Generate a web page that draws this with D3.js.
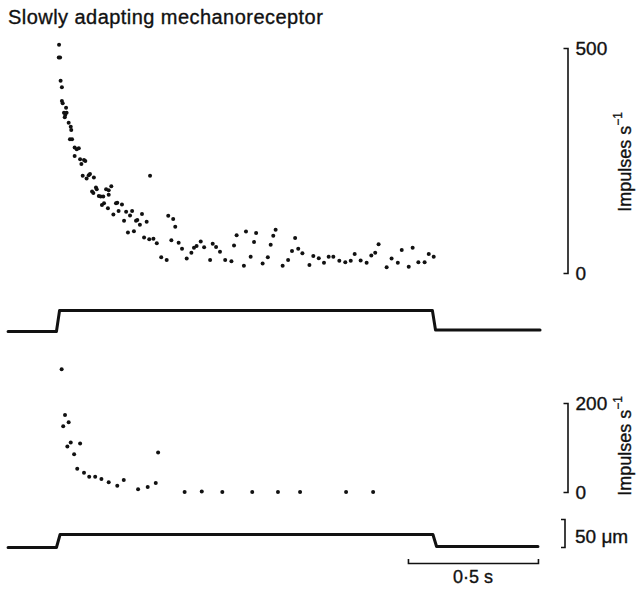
<!DOCTYPE html>
<html>
<head>
<meta charset="utf-8">
<script src="https://cdn.jsdelivr.net/npm/d3@7"></script>
<style>
  body { margin: 0; background: #fff; }
  svg { display: block; font-family: 'Liberation Sans', Arial, sans-serif; }
</style>
</head>
<body>
<div id="chart"><svg></svg></div>
<script>
// spike times (s after stimulus onset) and instantaneous rate (impulses/s)
const topT = [0.004, 0.003, 0.008, 0.010, 0.015, 0.015, 0.018, 0.031, 0.023, 0.028, 0.033, 0.026,
  0.041, 0.049, 0.051, 0.046, 0.054, 0.064, 0.072, 0.080, 0.064, 0.085, 0.090, 0.100, 0.105,
  0.095, 0.110, 0.118, 0.123, 0.138, 0.354, 0.131, 0.136, 0.146, 0.149, 0.157, 0.164, 0.174,
  0.185, 0.195, 0.205, 0.195, 0.169, 0.177, 0.192, 0.213, 0.223, 0.228, 0.246, 0.233, 0.262,
  0.254, 0.277, 0.285, 0.300, 0.305, 0.315, 0.323, 0.341, 0.269, 0.292, 0.331, 0.351, 0.367,
  0.380, 0.424, 0.443, 0.451, 0.397, 0.418, 0.436, 0.464, 0.477, 0.495, 0.513, 0.523, 0.533,
  0.549, 0.562, 0.585, 0.595, 0.608, 0.623, 0.643, 0.667, 0.677, 0.687, 0.715, 0.723, 0.741,
  0.754, 0.762, 0.787, 0.807, 0.818, 0.828, 0.837, 0.864, 0.885, 0.900, 0.912, 0.924, 0.940,
  0.967, 0.982, 1.003, 1.023, 1.041, 1.059, 1.082, 1.105, 1.126, 1.141, 1.164, 1.187, 1.205,
  1.220, 1.233, 1.264, 1.283, 1.307, 1.322, 1.349, 1.364, 1.386, 1.410, 1.426, 1.445]
const topRate = [507, 479, 479, 427, 413, 382, 377, 367, 356, 351, 356, 346,
  334, 325, 318, 297, 297, 279, 275, 277, 260, 253, 242, 251, 249,
  216, 210, 217, 220, 212, 216, 181, 178, 190, 186, 171, 170, 170,
  186, 184, 193, 174, 151, 155, 144, 130, 155, 156, 152, 138, 136,
  116, 128, 138, 116, 118, 107, 131, 114, 90, 93, 79, 75, 76,
  66, 127, 120, 103, 35, 29, 73, 67, 54, 32, 45, 56, 60,
  70, 57, 29, 65, 58, 47, 29, 26, 61, 84, 16, 92, 36,
  69, 89, 21, 35, 63, 83, 96, 16, 29, 49, 78, 54, 44,
  18, 38, 33, 23, 36, 36, 27, 24, 27, 42, 28, 23, 39,
  45, 64, 13, 32, 23, 51, 14, 56, 24, 24, 42, 36]

const botT = [0.014, 0.027, 0.020, 0.041, 0.036, 0.049, 0.085, 0.062, 0.074, 0.100, 0.120,
  0.143, 0.167, 0.195, 0.228, 0.253, 0.308, 0.345, 0.376, 0.385, 0.487, 0.553, 0.632,
  0.747, 0.846, 0.931, 1.108, 1.212]
const botRate = [276, 173, 148, 157, 102, 111, 109, 85, 52, 43, 34,
  34, 29, 22, 14, 27, 6, 11, 20, 89, 0, 1, 0,
  0, 0, 0, 0, 0]

// stimulus displacement traces (s, µm)
const stimTopT = [-0.192, -0.006, 0.006, 1.440, 1.452, 1.854]
const stimTopUm = [0, 0, 37.5, 37.5, 2.7, 2.7]
const stimBotT = [-0.192, -0.006, 0.008, 1.442, 1.456, 1.846]
const stimBotUm = [0, 0, 23.2, 23.2, 1.8, 1.8]

const topTicks = [0, 500]
const botTicks = [0, 200]
const scaleBarS = 0.5
const scaleBarUm = 50

const svg = d3.select('#chart').select('svg')
  .attr('width', 642)
  .attr('height', 593)

const x = d3.scaleLinear().domain([0, 1]).range([58, 318])
const yTop = d3.scaleLinear().domain([0, 500]).range([273, 48])
const yBot = d3.scaleLinear().domain([0, 200]).range([492, 403])
const stimTop = d3.scaleLinear().domain([0, 50]).range([331.5, 303.5])
const stimBot = d3.scaleLinear().domain([0, 50]).range([547.5, 519.5])

const ink = '#111'
// scanned print looks a bit heavier than the plain font
const heavy = sel => sel.attr('stroke', ink).attr('stroke-width', 0.35)

svg.append('text').text('Slowly adapting mechanoreceptor')
  .attr('x', 8).attr('y', 24)
  .attr('font-size', '20px')
  .attr('letter-spacing', '0.45px')
  .attr('fill', ink)
  .call(heavy)

// dots
function dots(ts, rs, y, cls) {
  svg.selectAll('.' + cls).data(ts).enter()
    .append('circle').attr('class', cls)
    .attr('cx', d => x(d))
    .attr('cy', (d, i) => y(rs[i]))
    .attr('r', 2)
    .attr('fill', ink)
}
dots(topT, topRate, yTop, 'dotTop')
dots(botT, botRate, yBot, 'dotBot')

// stimulus traces
function trace(ts, us, y) {
  let line = d3.line().x(d => x(d[0])).y(d => y(d[1]))
  svg.append('path')
    .attr('d', line(ts.map((t, i) => [t, us[i]])))
    .attr('fill', 'none')
    .attr('stroke', ink)
    .attr('stroke-width', 3)
    .attr('stroke-linejoin', 'round')
    .attr('stroke-linecap', 'round')
}
trace(stimTopT, stimTopUm, stimTop)
trace(stimBotT, stimBotUm, stimBot)

// rate axes, ticks pointing left, labels right
function rateAxis(y, ticks, labelY) {
  let g = svg.append('g')
    .attr('transform', 'translate(567.5,0)')
    .call(d3.axisRight(y).tickValues(ticks).tickSizeInner(0).tickSizeOuter(-4).tickPadding(8))
  g.select('.domain').attr('stroke', ink).attr('stroke-width', 1.6)
  g.selectAll('text').attr('font-size', '19px').attr('fill', ink)
    .attr('font-family', "'Liberation Sans', Arial, sans-serif")
    .call(heavy)
  let lab = svg.append('text')
    .attr('transform', `translate(626,${labelY}) rotate(-90)`)
    .attr('text-anchor', 'middle')
    .attr('dominant-baseline', 'middle')
    .attr('font-size', '18px')
    .attr('fill', ink)
    .call(heavy)
  lab.append('tspan').text('Impulses s')
  lab.append('tspan').text('\u22121')
    .attr('font-size', '12px')
    .attr('dy', '-7')
}
rateAxis(yTop, topTicks, 162)
rateAxis(yBot, botTicks, 446)

// 50 µm bracket
const umBar = svg.append('g')
  .attr('transform', 'translate(565,0)')
  .call(d3.axisRight(stimBot).tickValues([]).tickSizeOuter(-4))
umBar.select('.domain')
  .attr('d', `M-4,${stimBot(0)}H0V${stimBot(scaleBarUm)}H-4`)
  .attr('stroke', ink).attr('stroke-width', 1.6)
svg.append('text').text('50 \u03bcm')
  .attr('x', 575).attr('y', 543)
  .attr('font-size', '19px')
  .attr('fill', ink)
  .call(heavy)

// 0.5 s time bar
const barScale = d3.scaleLinear().domain([0, scaleBarS]).range([x(1.346), x(1.346 + scaleBarS)])
const sBar = svg.append('g')
  .attr('transform', 'translate(0,563)')
  .call(d3.axisBottom(barScale).tickValues([]).tickSizeOuter(-4))
sBar.select('.domain').attr('stroke', ink).attr('stroke-width', 1.6)
svg.append('text').text('0\u00b75 s')
  .attr('x', (barScale(0) + barScale(scaleBarS)) / 2).attr('y', 583)
  .attr('text-anchor', 'middle')
  .attr('font-size', '18px')
  .attr('fill', ink)
  .call(heavy)
</script>
</body>
</html>
